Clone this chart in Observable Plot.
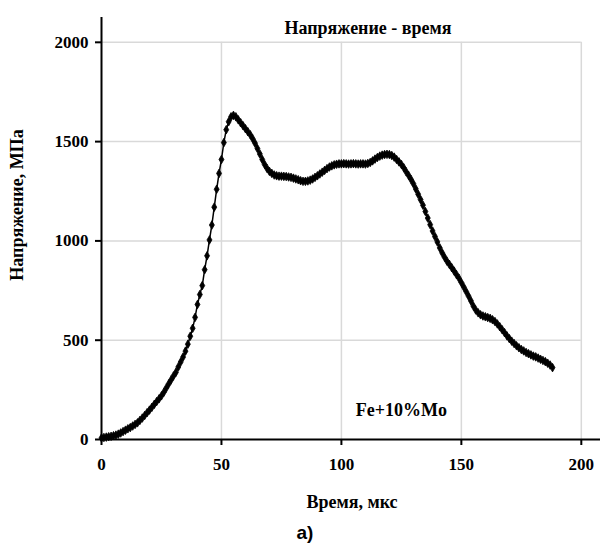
<!DOCTYPE html>
<html><head><meta charset="utf-8">
<script src="https://cdn.jsdelivr.net/npm/d3@7"></script>
<script src="https://cdn.jsdelivr.net/npm/@observablehq/plot@0.6"></script>
<style>
body{margin:0;background:#fff;}
#wrap{position:relative;width:600px;height:548px;overflow:hidden;}
.lbl{position:absolute;font-family:"Liberation Serif","Times New Roman",serif;font-weight:bold;font-size:18px;color:#000;white-space:nowrap;line-height:1;}
</style></head><body>
<div id="wrap"></div>
<script>
const time = [0,1,2,3,4,5,6,7,8,9,10,11,12,13,14,15,16,17,18,19,20,21,22,23,24,25,26,27,28,29,30,31,32,33,34,35,36,37,38,39,40,41,42,43,44,45,46,47,48,49,50,51,52,53,54,55,56,57,58,59,60,61,62,63,64,65,66,67,68,69,70,71,72,73,74,75,76,77,78,79,80,81,82,83,84,85,86,87,88,89,90,91,92,93,94,95,96,97,98,99,100,101,102,103,104,105,106,107,108,109,110,111,112,113,114,115,116,117,118,119,120,121,122,123,124,125,126,127,128,129,130,131,132,133,134,135,136,137,138,139,140,141,142,143,144,145,146,147,148,149,150,151,152,153,154,155,156,157,158,159,160,161,162,163,164,165,166,167,168,169,170,171,172,173,174,175,176,177,178,179,180,181,182,183,184,185,186,187,188];
const stress = [8,10,12,14,16,19,22,27,33,40,47,54,60,68,76,84,96,108,121,135,148,162,177,191,205,220,238,259,280,300,320,338,365,390,415,445,480,520,560,615,680,730,775,855,925,1005,1080,1170,1260,1340,1410,1495,1560,1600,1625,1632,1625,1610,1595,1580,1565,1550,1535,1515,1492,1465,1438,1410,1385,1365,1350,1340,1332,1328,1326,1326,1325,1324,1322,1320,1316,1312,1308,1303,1300,1300,1302,1306,1312,1320,1328,1337,1346,1355,1364,1372,1378,1383,1386,1388,1388,1389,1388,1387,1388,1389,1388,1387,1388,1388,1387,1390,1395,1403,1412,1420,1427,1432,1435,1436,1435,1430,1422,1410,1398,1385,1368,1348,1330,1310,1288,1262,1235,1208,1180,1148,1115,1082,1050,1022,995,965,940,918,898,882,865,848,830,812,790,768,745,722,698,672,652,638,628,622,618,614,610,603,594,582,568,553,538,522,508,495,483,472,462,453,446,438,432,426,420,416,410,404,398,392,384,375,362];
const xTicks = [0,50,100,150,200];
const yTicks = [0,500,1000,1500,2000];
const xGrid = [50,100,150,200];
const yGrid = [500,1000,1500,2000];
const titleText = "Напряжение - время";
const xLabel = "Время, мкс";
const yLabel = "Напряжение, МПа";
const noteText = "Fe+10%Mo";
const noteX = [125];
const noteY = [145];
const panelText = "а)";

const data = time.map((t, i) => ({t, v: stress[i]}));
const wrap = document.getElementById("wrap");

const chart = Plot.plot({
  width: 600, height: 548,
  marginLeft: 101, marginRight: 0, marginTop: 17, marginBottom: 109,
  x: {domain: [0, 208]},
  y: {domain: [0, 2125]},
  style: {fontFamily: "'Liberation Serif', 'Times New Roman', serif", fontWeight: "bold", fontSize: "17px", color: "#000", background: "#fff"},
  marks: [
    Plot.ruleX(xGrid, {x: d => d, y1: d => 0, y2: d => 2000, stroke: "#d9d9d9", strokeWidth: 1.5}),
    Plot.ruleY(yGrid, {y: d => d, x1: d => 0, x2: d => 200, stroke: "#d9d9d9", strokeWidth: 1.5}),
    Plot.axisX({ticks: xTicks, tickSize: 6, tickPadding: 12, label: null, tickFormat: d => String(d), stroke: "#000", strokeWidth: 2}),
    Plot.axisY({ticks: yTicks, tickSize: 6, tickPadding: 7, label: null, tickFormat: d => String(d), stroke: "#000", strokeWidth: 2}),
    Plot.ruleX([0], {stroke: "#000", strokeWidth: 2}),
    Plot.ruleY([0], {stroke: "#000", strokeWidth: 2}),
    Plot.line(data, {x: "t", y: "v", stroke: "#000", strokeWidth: 1.5}),
    Plot.dot(data, {x: "t", y: "v", symbol: "diamond", r: 2.6, fill: "#000", stroke: "#000", strokeWidth: 0.8}),
    Plot.text([noteText], {x: () => noteX[0], y: () => noteY[0], text: d => d, fontSize: 18, fontWeight: "bold", fill: "#000"})
  ]
});
wrap.appendChild(chart);

function addLabel(text, css) {
  const d = document.createElement("div");
  d.className = "lbl";
  d.textContent = text;
  Object.assign(d.style, css);
  wrap.appendChild(d);
  return d;
}
addLabel(titleText, {left: "368px", top: "19px", transform: "translateX(-50%)"});
addLabel(xLabel, {left: "352px", top: "493px", transform: "translateX(-50%)"});
addLabel(yLabel, {left: "17px", top: "205px", transform: "translate(-50%,-50%) rotate(-90deg)"});
addLabel(panelText, {left: "305px", top: "523px", transform: "translateX(-50%)", fontFamily: "'Liberation Sans', Arial, sans-serif", fontSize: "19px"});
</script>
</body></html>
